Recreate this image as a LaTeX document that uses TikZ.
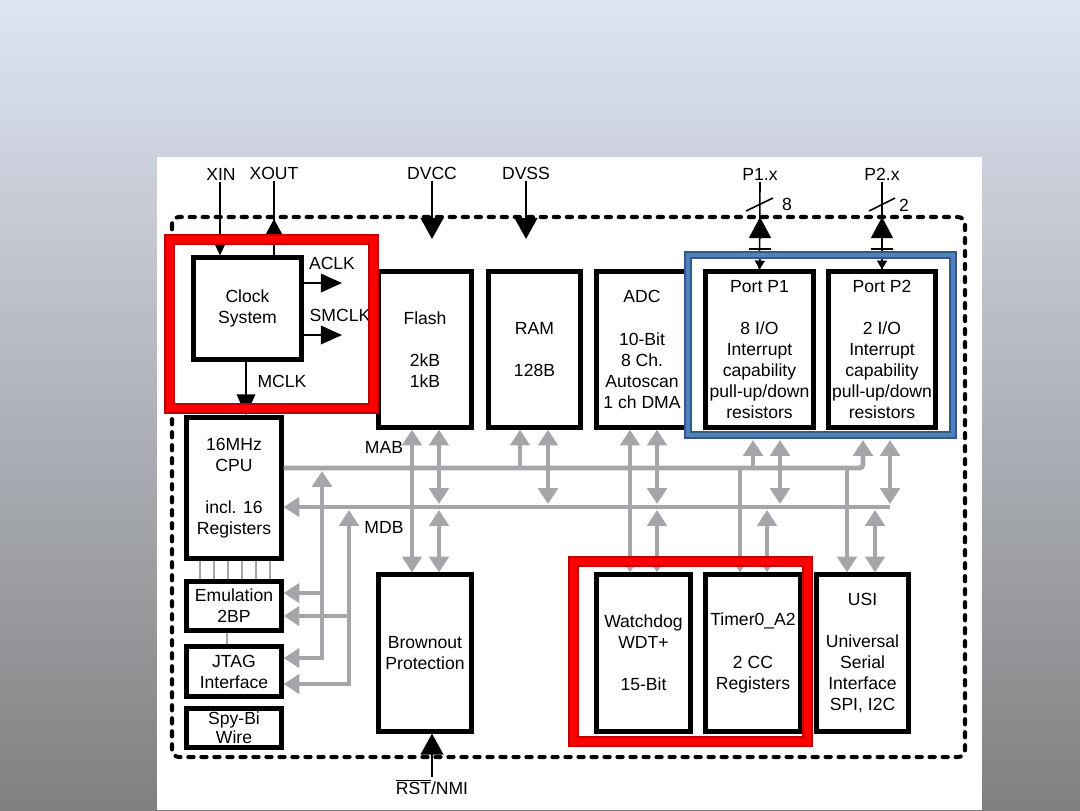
\documentclass[tikz,border=0pt]{standalone}
\usepackage{fontspec}
\setmainfont{Liberation Sans}
\usetikzlibrary{arrows.meta,calc,positioning}
\definecolor{busgray}{RGB}{166,166,170}
\definecolor{hlred}{RGB}{255,0,0}
\definecolor{hldark}{RGB}{190,0,0}
\definecolor{hlblue}{RGB}{79,129,189}
\definecolor{hlbluedark}{RGB}{52,88,138}
\definecolor{bgtop}{RGB}{222,229,243}
\definecolor{bgbot}{RGB}{128,128,128}

\begin{document}
\begin{tikzpicture}[x=0.2mm,y=-0.2mm,
  font=\fontsize{10}{12}\selectfont,
  block/.style={draw,line width=2.4pt,inner sep=0pt,align=center,fill=white},
  lbl/.style={inner sep=1pt},
  pin/.style={draw,line width=0.9pt},
  pwr/.style={pin,-{Triangle[width=13pt,length=12pt]}},
  clkout/.style={draw,line width=1.2pt,-{Triangle[width=10.5pt,length=12pt]}},
  bus/.style={draw=busgray,line width=2.8pt,>={Triangle[width=11pt,length=9pt]}},
  thinbus/.style={draw=busgray,line width=0.9pt},
  chipline/.style={draw,line width=2.3pt,dash pattern=on 3pt off 4.4pt,line cap=round,rounded corners=4pt}]

  % slide background
  \useasboundingbox (0,0) rectangle (1080,810);
  \shade[top color=bgtop,bottom color=bgbot] (0,0) rectangle (1080,810);
  \fill[white] (157,157) rectangle (982,810);

  % chip border
  \draw[chipline] (172,217) rectangle (965,757);

  % blocks
  \node[block,minimum width=21.6mm,minimum height=20.4mm] (clk) at (247.5,308.5) {Clock\\System};
  \node[block,minimum width=18.6mm,minimum height=31.2mm] (flash) at (425,349.5) {Flash\\ \\2kB\\1kB};
  \node[block,minimum width=18.4mm,minimum height=31.2mm] (ram) at (534.5,349.5) {RAM\\ \\128B};
  \node[block,minimum width=18.2mm,minimum height=31.2mm] (adc) at (642,349.5) {ADC\\ \\10-Bit\\8 Ch.\\Autoscan\\1 ch DMA};
  \node[block,minimum width=21.6mm,minimum height=31.2mm] (p1) at (759.5,349.5) {Port P1\\ \\8 I/O\\Interrupt\\capability\\pull-up/down\\resistors};
  \node[block,minimum width=21.4mm,minimum height=31.2mm] (p2) at (882,349.5) {Port P2\\ \\2 I/O\\Interrupt\\capability\\pull-up/down\\resistors};
  \node[block,minimum width=19mm,minimum height=28.2mm] (cpu) at (234,488) {16MHz\\CPU\\ \\incl. 16\\Registers};
  \node[block,minimum width=19mm,minimum height=9.8mm] (emu) at (234,606) {Emulation\\2BP};
  \node[block,minimum width=19mm,minimum height=10mm] (jtag) at (234,671.5) {JTAG\\Interface};
  \node[block,minimum width=19mm,minimum height=7.8mm,font=\fontsize{10}{11}\selectfont] (spy) at (234,728) {Spy-Bi\\Wire};
  \node[block,minimum width=18.6mm,minimum height=31.4mm] (brown) at (425,653) {Brownout\\Protection};
  \node[block,minimum width=18.8mm,minimum height=31.4mm] (wdt) at (643.5,653) {Watchdog\\WDT+\\ \\15-Bit};
  \node[block,minimum width=19mm,minimum height=31.4mm] (tmr) at (753,653) {Timer0\_A2\\ \\2 CC\\Registers};
  \node[block,minimum width=18.4mm,minimum height=31.4mm] (usi) at (862.5,653) {USI\\ \\Universal\\Serial\\Interface\\SPI, I2C};

  % pins
  \node[lbl] (xin) at (221,174) {XIN};
  \node[lbl] (xout) at (274,173) {XOUT};
  \node[lbl] (dvcc) at (432,173) {DVCC};
  \node[lbl] (dvss) at (526,173) {DVSS};
  \node[lbl] (p1x) at (760,174) {P1.x};
  \node[lbl] (p2x) at (882,174) {P2.x};
  \node[lbl] (rst) at (432,787) {$\overline{\mbox{RST}}$/NMI};

  \draw[pin,-{Triangle[width=5.7pt,length=6.3pt]}] (220,0 |- xin.south) -- (220,0 |- clk.north);
  \draw[pin] (xout.south) -- (xout.south |- clk.north);
  \draw[pin,-{Triangle[width=9pt,length=8.5pt]}] (xout.south |- clk.north) -- (274,219);
  \draw[pwr] (dvcc.south) -- (432,239);
  \draw[pwr] (dvss.south) -- (526,239);
  \draw[pwr] (rst.north) -- (rst.north |- brown.south);

  \draw[pin] (p1x.south) -- (p1.north);
  \draw[pin,-{Triangle[width=12.5pt,length=12pt]}] (760,239) -- (760,217);
  \draw[pin] (749,249) -- (771,249);
  \draw[pin,-{Triangle[width=5.7pt,length=5pt]}] (760,258) -- (p1.north);
  \draw[pin] (746,211) -- (773,198);
  \node[lbl] (n8) at (787,204) {8};

  \draw[pin] (p2x.south) -- (p2.north);
  \draw[pin,-{Triangle[width=12.5pt,length=12pt]}] (882,239) -- (882,217);
  \draw[pin] (871,249) -- (893,249);
  \draw[pin,-{Triangle[width=5.7pt,length=5pt]}] (882,258) -- (p2.north);
  \draw[pin] (869,211) -- (895,198);
  \node[lbl] (n2) at (904,205) {2};

  % clock outputs
  \draw[clkout] (clk.east |- 0,283) -- (342,283);
  \node[lbl] (aclk) at (332,263) {ACLK};
  \draw[clkout] (clk.east |- 0,335) -- (342,335);
  \node[lbl] (smclk) at (340,315) {SMCLK};
  \draw[clkout] (clk.south -| 246,0) -- (246,0 |- cpu.north);
  \node[lbl] (mclk) at (282,381) {MCLK};

  % buses MAB / MDB
  \coordinate (mab) at (0,468);
  \coordinate (mabbot) at (0,471);
  \coordinate (mdb) at (0,507);
  \coordinate (mdbtop) at (0,504);
  \coordinate (mdbbot) at (0,510);
  \coordinate (pbot) at (0,440);

  \draw[bus,->,rounded corners=2pt] (cpu.east |- mab) -- (863,0 |- mab) -- (863,0 |- pbot);
  \draw[bus,->] (890,0 |- mdb) -- (cpu.east |- mdb);
  \node[lbl] (mablbl) at (384,447) {MAB};
  \node[lbl] (mdblbl) at (384,527) {MDB};

  \draw[bus,<->] (412,0 |- flash.south) -- (412,0 |- brown.north);
  \draw[bus,<->] (439,0 |- flash.south) -- (439,0 |- mdbtop);
  \draw[bus,<->] (439,0 |- mdbbot) -- (439,0 |- brown.north);
  \draw[bus,->] (520,0 |- mab) -- (520,0 |- ram.south);
  \draw[bus,<->] (548,0 |- ram.south) -- (548,0 |- mdbtop);
  \draw[bus,<->] (630,0 |- adc.south) -- (630,0 |- wdt.north);
  \draw[bus,<->] (657,0 |- adc.south) -- (657,0 |- mdbtop);
  \draw[bus,<->] (657,0 |- mdbbot) -- (657,0 |- wdt.north);
  \draw[bus,->] (740,0 |- mab) -- (740,0 |- tmr.north);
  \draw[bus,->] (753,0 |- mab) -- (753,0 |- pbot);
  \draw[bus,<->] (767,0 |- mdbbot) -- (767,0 |- tmr.north);
  \draw[bus,<->] (780,0 |- pbot) -- (780,0 |- mdbtop);
  \draw[bus,->] (847,0 |- mab) -- (847,0 |- usi.north);
  \draw[bus,<->] (875,0 |- mdbbot) -- (875,0 |- usi.north);
  \draw[bus,<->] (890,0 |- pbot) -- (890,0 |- mdbtop);

  % debug links
  \draw[bus,<->] (emu.east |- 0,593) -| (322,0 |- mabbot);
  \draw[bus,->] (322,593) |- (jtag.east |- 0,658);
  \draw[bus,<->] (emu.east |- 0,616) -| (349,0 |- mdbbot);
  \draw[bus,->] (349,616) |- (jtag.east |- 0,684);
  \foreach \x in {200,214,...,270}
    \draw[thinbus] (\x,0 |- cpu.south) -- (\x,0 |- emu.north);
  \draw[thinbus] (227,0 |- emu.south) -- (227,0 |- jtag.north);

  % highlight frames
  \draw[hldark,line width=6.2pt] (169.5,239.5) rectangle (373.5,408.5);
  \draw[hlred,line width=3.6pt] (169.5,239.5) rectangle (373.5,408.5);
  \draw[hldark,line width=6.2pt] (573.5,561.5) rectangle (807.5,741.5);
  \draw[hlred,line width=3.6pt] (573.5,561.5) rectangle (807.5,741.5);
  \draw[hlbluedark,line width=4.6pt] (688,255) rectangle (953,435);
  \draw[hlblue,line width=2.6pt] (688,255) rectangle (953,435);
\end{tikzpicture}
\end{document}
